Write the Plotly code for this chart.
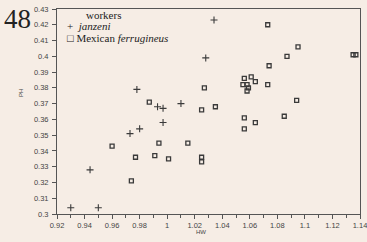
import plotly.graph_objects as go

# janzeni workers
jan_hw = [1.034, 1.028, 0.978, 0.993, 0.997, 1.010, 0.997, 0.973, 0.980, 0.944, 0.930, 0.950]
jan_ph = [0.423, 0.399, 0.379, 0.368, 0.367, 0.370, 0.358, 0.351, 0.354, 0.328, 0.304, 0.304]

# Mexican ferrugineus workers
fer_hw = [1.027, 0.987, 1.025, 1.073, 1.095, 1.087, 1.135, 1.137, 1.074,
          1.056, 1.061, 1.064, 1.055, 1.058, 1.059, 1.058, 1.073, 1.094,
          1.035, 1.056, 1.064, 1.085, 1.056, 1.025, 1.025, 0.960, 0.977,
          0.994, 0.991, 1.001, 1.015, 0.974]
fer_ph = [0.380, 0.371, 0.366, 0.420, 0.406, 0.400, 0.401, 0.401, 0.394,
          0.386, 0.387, 0.384, 0.382, 0.382, 0.380, 0.378, 0.382, 0.372,
          0.368, 0.361, 0.358, 0.362, 0.354, 0.336, 0.333, 0.343, 0.336,
          0.345, 0.337, 0.335, 0.345, 0.321]

x_ticks = [0.92, 0.94, 0.96, 0.98, 1.0, 1.02, 1.04, 1.06, 1.08, 1.10, 1.12, 1.14]
x_labels = ["0.92", "0.94", "0.96", "0.98", "1", "1.02", "1.04", "1.06", "1.08", "1.1", "1.12", "1.14"]
y_ticks = [0.30, 0.31, 0.32, 0.33, 0.34, 0.35, 0.36, 0.37, 0.38, 0.39, 0.40, 0.41, 0.42, 0.43]
y_labels = ["0.3", "0.31", "0.32", "0.33", "0.34", "0.35", "0.36", "0.37", "0.38", "0.39", "0.4", "0.41", "0.42", "0.43"]

ink = "#3a3a3a"
bg = "#f6ede5"
sans = "Liberation Sans, Arial, sans-serif"
serif = "Liberation Serif, Times New Roman, serif"

fig = go.Figure()
fig.add_trace(go.Scatter(x=jan_hw, y=jan_ph, mode="markers", name="janzeni",
                         marker=dict(symbol="cross-thin", size=5, line=dict(color=ink, width=1.1), color=ink),
                         cliponaxis=False))
fig.add_trace(go.Scatter(x=fer_hw, y=fer_ph, mode="markers", name="Mexican ferrugineus",
                         marker=dict(symbol="square-open", size=4, line=dict(color=ink, width=1.3), color=ink),
                         cliponaxis=False))

axis_common = dict(showgrid=False, zeroline=False, showline=True, linecolor="#555", linewidth=1,
                   mirror=True, ticks="outside", ticklen=4, tickcolor="#555", tickwidth=1,
                   automargin=False, ticklabeloverflow="allow",
                   tickfont=dict(family=sans, size=7.5, color="#444"))

fig.update_xaxes(range=[0.92, 1.14], tickvals=x_ticks, ticktext=x_labels,
                 minor=dict(dtick=0.01, tick0=0.92, ticks="outside", ticklen=3, tickcolor="#555"),
                 **axis_common)
fig.update_yaxes(range=[0.30, 0.43], tickvals=y_ticks, ticktext=y_labels, ticklabelstandoff=2,
                 **axis_common)

fig.add_annotation(x=0, y=0, xref="paper", yref="paper", text="HW", showarrow=False,
                   font=dict(family=sans, size=6, color="#444"), xshift=137, yshift=-23)
fig.add_annotation(x=0, y=0.59, xref="paper", yref="paper", text="PH", showarrow=False, textangle=-90,
                   font=dict(family=sans, size=6, color="#444"), xshift=-41)

fig.add_annotation(x=0, y=1, xref="paper", yref="paper", xanchor="left", yanchor="middle",
                   text="48", showarrow=False, font=dict(family=serif, size=27, color="#222"), xshift=-55, yshift=-10)
fig.add_annotation(x=0, y=1, xref="paper", yref="paper", xanchor="left", yanchor="middle",
                   text="workers", showarrow=False, font=dict(family=serif, size=11, color="#222"), xshift=27, yshift=-6)
fig.add_annotation(x=0, y=1, xref="paper", yref="paper", xanchor="left", yanchor="middle",
                   text="+  <i>janzeni</i>", showarrow=False, font=dict(family=serif, size=11, color="#222"), xshift=8, yshift=-17)
fig.add_annotation(x=0, y=1, xref="paper", yref="paper", xanchor="left", yanchor="middle",
                   text="□ Mexican <i>ferrugineus</i>", showarrow=False, font=dict(family=serif, size=11, color="#222"), xshift=8, yshift=-29)

fig.update_layout(width=367, height=242, margin=dict(l=57, r=7, t=9, b=28),
                  paper_bgcolor=bg, plot_bgcolor=bg, showlegend=False)

fig.write_html("out.html", config={"displayModeBar": False, "staticPlot": True},
               post_script="document.body.style.margin='0';document.body.style.background='%s';" % bg)
